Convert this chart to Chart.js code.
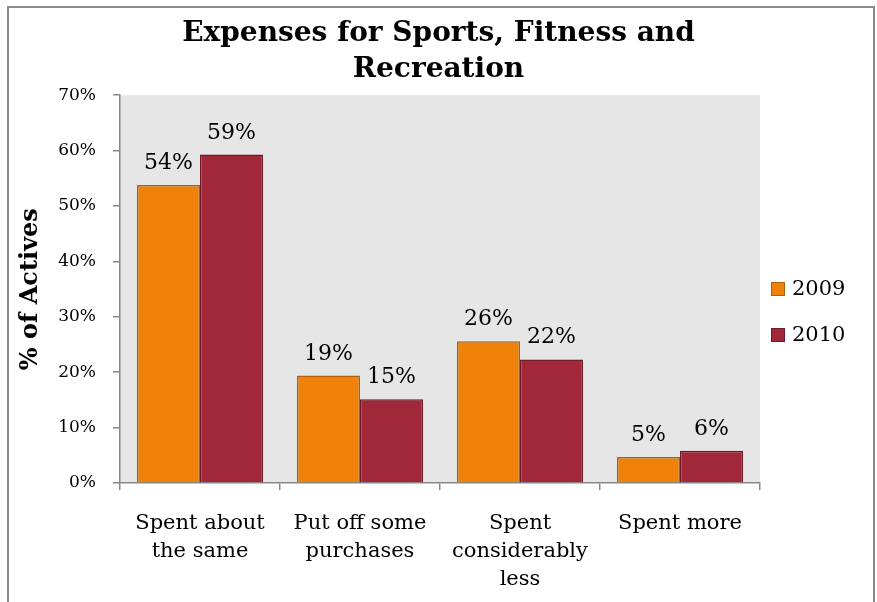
<!DOCTYPE html>
<html>
<head>
<meta charset="utf-8">
<script src="https://cdn.jsdelivr.net/npm/chart.js@4/dist/chart.umd.min.js"></script>
<style>
  html, body { margin: 0; padding: 0; background: #ffffff; overflow: hidden; }
  #wrap { position: relative; width: 877px; height: 602px; }
  #frame { position: absolute; left: 7px; top: 6px; width: 868px; height: 640px; border: 2px solid #8a8a8a; box-sizing: border-box; pointer-events: none; }
  canvas { position: absolute; left: 0; top: 0; }
</style>
</head>
<body>
<div id="wrap">
  <canvas id="c"></canvas>
  <div id="frame"></div>
</div>
<script>
const categories = [
  ["Spent about", "the same"],
  ["Put off some", "purchases"],
  ["Spent", "considerably", "less"],
  ["Spent more"]
];
const seriesNames = ["2009", "2010"];
const values2009 = [53.8, 19.4, 25.6, 4.7];
const values2010 = [59.3, 15.1, 22.3, 5.8];
const yTicks = [0, 10, 20, 30, 40, 50, 60, 70];

const SERIF = "'DejaVu Serif', 'Liberation Serif', serif";

const plotBg = {
  id: 'plotBg',
  beforeDraw(chart) {
    const { ctx, chartArea: a } = chart;
    ctx.save();
    ctx.fillStyle = '#e6e6e6';
    ctx.fillRect(a.left, a.top, a.right - a.left, a.bottom - a.top);
    ctx.restore();
  }
};

const valueLabels = {
  id: 'valueLabels',
  afterDatasetsDraw(chart) {
    const { ctx } = chart;
    ctx.save();
    ctx.font = "22px " + SERIF;
    ctx.fillStyle = '#000';
    ctx.textAlign = 'center';
    ctx.textBaseline = 'alphabetic';
    chart.data.datasets.forEach((ds, i) => {
      chart.getDatasetMeta(i).data.forEach((bar, j) => {
        ctx.fillText(Math.round(ds.data[j]) + '%', bar.x, bar.y - 16);
      });
    });
    ctx.restore();
  }
};

const sideLegend = {
  id: 'sideLegend',
  afterDraw(chart) {
    const { ctx } = chart;
    ctx.save();
    ctx.font = "21px " + SERIF;
    ctx.textBaseline = 'middle';
    ctx.textAlign = 'left';
    const x0 = 771, ys = [289, 335];
    chart.data.datasets.forEach((ds, i) => {
      const y = ys[i];
      ctx.fillStyle = ds.backgroundColor;
      ctx.fillRect(x0, y - 7, 14, 14);
      ctx.strokeStyle = ds.borderColor;
      ctx.lineWidth = 1;
      ctx.strokeRect(x0 + 0.5, y - 6.5, 13, 13);
      ctx.fillStyle = '#000';
      ctx.fillText(ds.label, x0 + 21, y + 1);
    });
    ctx.restore();
  }
};

new Chart(document.getElementById('c'), {
  type: 'bar',
  data: {
    labels: categories,
    datasets: [
      { label: seriesNames[0], data: values2009, backgroundColor: '#f0820a', borderColor: '#b0600c', borderWidth: 1.5, borderSkipped: 'bottom' },
      { label: seriesNames[1], data: values2010, backgroundColor: '#a02839', borderColor: '#6e1a27', borderWidth: 1.5, borderSkipped: 'bottom' }
    ]
  },
  options: {
    responsive: true,
    maintainAspectRatio: false,
    animation: false,
    layout: { padding: { left: 0, right: 0, top: 0, bottom: 0 } },
    datasets: { bar: { categoryPercentage: 0.7875, barPercentage: 1.0 } },
    plugins: {
      legend: { display: false },
      tooltip: { enabled: false },
      title: {
        display: true,
        text: ["Expenses for Sports, Fitness and", "Recreation"],
        color: '#000',
        font: { family: SERIF, size: 28, weight: 'bold', lineHeight: 1.29 },
        padding: { top: 16, bottom: 7 }
      }
    },
    scales: {
      x: {
        afterFit(s) { s.height = 119; },
        grid: { offset: true, drawOnChartArea: false, drawTicks: true, tickLength: 7, color: '#888', lineWidth: 1.5 },
        border: { color: '#888', width: 1.5 },
        ticks: { color: '#000', font: { family: SERIF, size: 21, lineHeight: 1.33 }, padding: 20, maxRotation: 0, autoSkip: false }
      },
      y: {
        min: 0, max: 70,
        afterFit(s) { s.width = 120; },
        afterBuildTicks(s) { s.ticks = yTicks.map(v => ({ value: v })); },
        grid: { drawOnChartArea: false, drawTicks: true, tickLength: 7, color: '#888', lineWidth: 1.5 },
        border: { color: '#888', width: 1.5 },
        ticks: { color: '#000', font: { family: SERIF, size: 17 }, padding: 17, callback: v => v + '%' },
        title: {
          display: true, text: '% of Actives', color: '#000',
          font: { family: SERIF, size: 24, weight: 'bold', lineHeight: 1.2 },
          padding: { top: 16, bottom: 0 }
        }
      },
      yRight: {
        position: 'right',
        display: true,
        min: 0, max: 70,
        afterFit(s) { s.width = 117; },
        grid: { display: false, drawTicks: false },
        border: { display: false },
        ticks: { display: false }
      }
    }
  },
  plugins: [plotBg, valueLabels, sideLegend]
});
</script>
</body>
</html>
